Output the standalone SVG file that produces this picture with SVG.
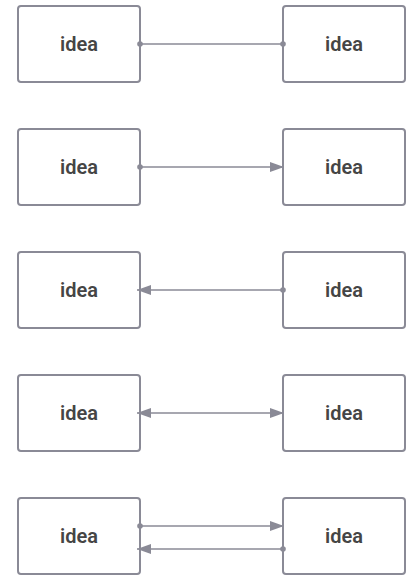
<svg xmlns="http://www.w3.org/2000/svg" width="418" height="588" viewBox="0 0 418 588">
<style>
.box{fill:#ffffff;stroke:#8a8a96;stroke-width:2}
.lbl{font-family:Roboto,"Liberation Sans",sans-serif;font-size:20px;font-weight:600;fill:#454545;text-anchor:middle}
.ln{stroke:#8a8a96;stroke-width:1.6;fill:none}
.dot{fill:#8a8a96}
</style>
<defs>
<marker id="arr" viewBox="0 0 14 10" refX="14" refY="5" markerWidth="14" markerHeight="10" markerUnits="userSpaceOnUse" orient="auto-start-reverse">
<path d="M0,0 L14,5 L0,10 Z" fill="#8a8a96"/>
</marker>
</defs>
<rect width="418" height="588" fill="#ffffff"/>
<g id="n1a"><rect class="box" x="18" y="6" width="122" height="76" rx="3"/><text class="lbl" x="79" y="51">idea</text></g>
<g id="n1b"><rect class="box" x="283" y="6" width="122" height="76" rx="3"/><text class="lbl" x="344" y="51">idea</text></g>
<g id="n2a"><rect class="box" x="18" y="129" width="122" height="76" rx="3"/><text class="lbl" x="79" y="174">idea</text></g>
<g id="n2b"><rect class="box" x="283" y="129" width="122" height="76" rx="3"/><text class="lbl" x="344" y="174">idea</text></g>
<g id="n3a"><rect class="box" x="18" y="252" width="122" height="76" rx="3"/><text class="lbl" x="79" y="297">idea</text></g>
<g id="n3b"><rect class="box" x="283" y="252" width="122" height="76" rx="3"/><text class="lbl" x="344" y="297">idea</text></g>
<g id="n4a"><rect class="box" x="18" y="375" width="122" height="76" rx="3"/><text class="lbl" x="79" y="420">idea</text></g>
<g id="n4b"><rect class="box" x="283" y="375" width="122" height="76" rx="3"/><text class="lbl" x="344" y="420">idea</text></g>
<g id="n5a"><rect class="box" x="18" y="498" width="122" height="76" rx="3"/><text class="lbl" x="79" y="543">idea</text></g>
<g id="n5b"><rect class="box" x="283" y="498" width="122" height="76" rx="3"/><text class="lbl" x="344" y="543">idea</text></g>
<g id="connectors">
<line class="ln" x1="140" y1="44" x2="283" y2="44"/>
<circle class="dot" cx="140" cy="44" r="2.8"/>
<circle class="dot" cx="283" cy="44" r="2.8"/>
<line class="ln" x1="140" y1="167" x2="284" y2="167" marker-end="url(#arr)"/>
<circle class="dot" cx="140" cy="167" r="2.8"/>
<line class="ln" x1="283" y1="290" x2="137" y2="290" marker-end="url(#arr)"/>
<circle class="dot" cx="283" cy="290" r="2.8"/>
<line class="ln" x1="137" y1="413" x2="284" y2="413" marker-start="url(#arr)" marker-end="url(#arr)"/>
<line class="ln" x1="140" y1="526" x2="284" y2="526" marker-end="url(#arr)"/>
<circle class="dot" cx="140" cy="526" r="2.8"/>
<line class="ln" x1="283" y1="549" x2="137" y2="549" marker-end="url(#arr)"/>
<circle class="dot" cx="283" cy="549" r="2.8"/>
</g>
</svg>
